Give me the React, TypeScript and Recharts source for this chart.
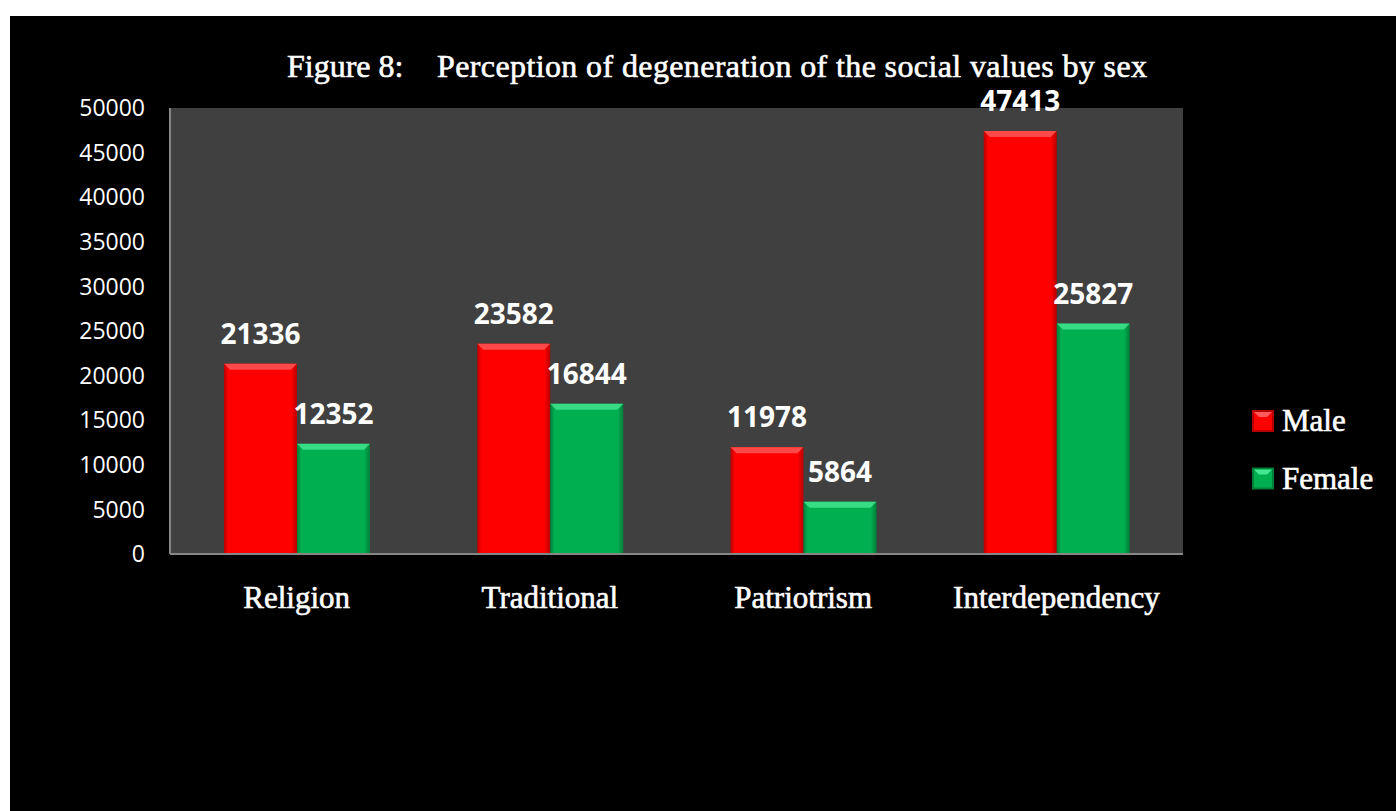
import * as React from "react"
import { Bar, BarChart, CartesianGrid, LabelList, Legend, XAxis, YAxis } from "recharts"

const categories = ["Religion", "Traditional", "Patriotrism", "Interdependency"]
const maleValues = [21336, 23582, 11978, 47413]
const femaleValues = [12352, 16844, 5864, 25827]
const yTicks = [0, 5000, 10000, 15000, 20000, 25000, 30000, 35000, 40000, 45000, 50000]
const seriesOrder = ["male", "female"]

const data = categories.map((name, i) => ({ name, male: maleValues[i], female: femaleValues[i] }))

const SERIF = "'Liberation Serif', 'Times New Roman', serif"
const SANS = "'Open Sans', 'Noto Sans', sans-serif"

const palette: Record<string, { main: string; edge: string; light: string }> = {
  male: { main: "#ff0000", edge: "#b80000", light: "#ff5a5a" },
  female: { main: "#00b050", edge: "#007f39", light: "#45e892" },
}

// bar with darker sides and a bevelled top edge
const BevelBar = (props: any) => {
  const { x, y, width, height, dataKey } = props
  if (!height || height <= 0) return null
  const c = palette[dataKey]
  const b = Math.min(6, height / 2)
  return (
    <g>
      <rect x={x} y={y} width={width} height={height} fill={`url(#grad-${dataKey})`} />
      <polygon
        points={`${x},${y} ${x + width},${y} ${x + width - b},${y + b} ${x + b},${y + b}`}
        fill={c.light}
        opacity={0.8}
      />
    </g>
  )
}

const LegendBox = (props: any) => {
  const items = [...(props.payload || [])].sort(
    (a: any, b: any) => seriesOrder.indexOf(a.dataKey) - seriesOrder.indexOf(b.dataKey),
  )
  return (
    <svg width={150} height={110}>
      {items.map((item: any, i: number) => {
        const c = palette[item.dataKey]
        const cy = 25 + i * 57.5
        return (
          <g key={item.value}>
            <rect x={1} y={cy - 10} width={20} height={20} fill={c.main} stroke={c.edge} strokeWidth={2} />
            <polygon points={`${2},${cy - 9} ${20},${cy - 9} ${15},${cy - 4} ${7},${cy - 4}`} fill={c.light} />
            <text
              x={30}
              y={cy + 10}
              fill="#fff"
              stroke="#fff"
              strokeWidth={0.6}
              fontFamily={SERIF}
              fontSize={31}
            >
              {item.value}
            </text>
          </g>
        )
      })}
    </svg>
  )
}

export default function App() {
  return (
    <div style={{ position: "absolute", left: 10, top: 16, width: 1386, height: 795, background: "#000" }}>
      <svg
        width={1386}
        height={100}
        style={{ position: "absolute", left: 0, top: 0, pointerEvents: "none", zIndex: 2 }}
      >
        <text x={277} y={61} fill="#fff" stroke="#fff" strokeWidth={0.6} fontFamily={SERIF} fontSize={32}>
          Figure 8:
        </text>
        <text
          x={427}
          y={61}
          fill="#fff"
          stroke="#fff"
          strokeWidth={0.6}
          fontFamily={SERIF}
          fontSize={32}
          textLength={710}
          lengthAdjust="spacing"
        >
          Perception of degeneration of the social values by sex
        </text>
      </svg>
      <BarChart
        width={1386}
        height={795}
        data={data}
        margin={{ top: 92, right: 213, bottom: 197, left: 100 }}
        barGap={0}
        barSize={73}
      >
        <defs>
          {Object.keys(palette).map((k) => (
            <linearGradient key={k} id={`grad-${k}`} x1="0" y1="0" x2="1" y2="0">
              <stop offset="0%" stopColor={palette[k].edge} />
              <stop offset="6%" stopColor={palette[k].main} />
              <stop offset="92%" stopColor={palette[k].main} />
              <stop offset="100%" stopColor={palette[k].edge} />
            </linearGradient>
          ))}
        </defs>
        <CartesianGrid horizontal={false} vertical={false} fill="#404040" stroke="none" />
        <XAxis
          dataKey="name"
          height={60}
          tickLine={false}
          tickSize={0}
          tickMargin={32}
          axisLine={{ stroke: "#868686", strokeWidth: 2 }}
          tick={{ fill: "#fff", stroke: "#fff", strokeWidth: 0.6, fontFamily: SERIF, fontSize: 31 }}
        />
        <YAxis
          width={60}
          domain={[0, 50000]}
          ticks={yTicks}
          interval={0}
          tickLine={false}
          tickSize={0}
          tickMargin={25}
          axisLine={{ stroke: "#868686", strokeWidth: 2 }}
          tick={{ fill: "#fff", fontFamily: SANS, fontSize: 23 }}
        />
        <Legend
          layout="horizontal"
          verticalAlign="middle"
          align="center"
          content={<LegendBox />}
          wrapperStyle={{ position: "absolute", left: 1242, top: 380, width: 150, height: 110 }}
        />
        <Bar dataKey="male" name="Male" fill="#ff0000" shape={<BevelBar />} isAnimationActive={false}>
          <LabelList
            dataKey="male"
            position="top"
            offset={20}
            fill="#fff"
            fontFamily={SANS}
            fontWeight="bold"
            fontSize={28}
          />
        </Bar>
        <Bar dataKey="female" name="Female" fill="#00b050" shape={<BevelBar />} isAnimationActive={false}>
          <LabelList
            dataKey="female"
            position="top"
            offset={20}
            fill="#fff"
            fontFamily={SANS}
            fontWeight="bold"
            fontSize={28}
          />
        </Bar>
      </BarChart>
    </div>
  )
}
